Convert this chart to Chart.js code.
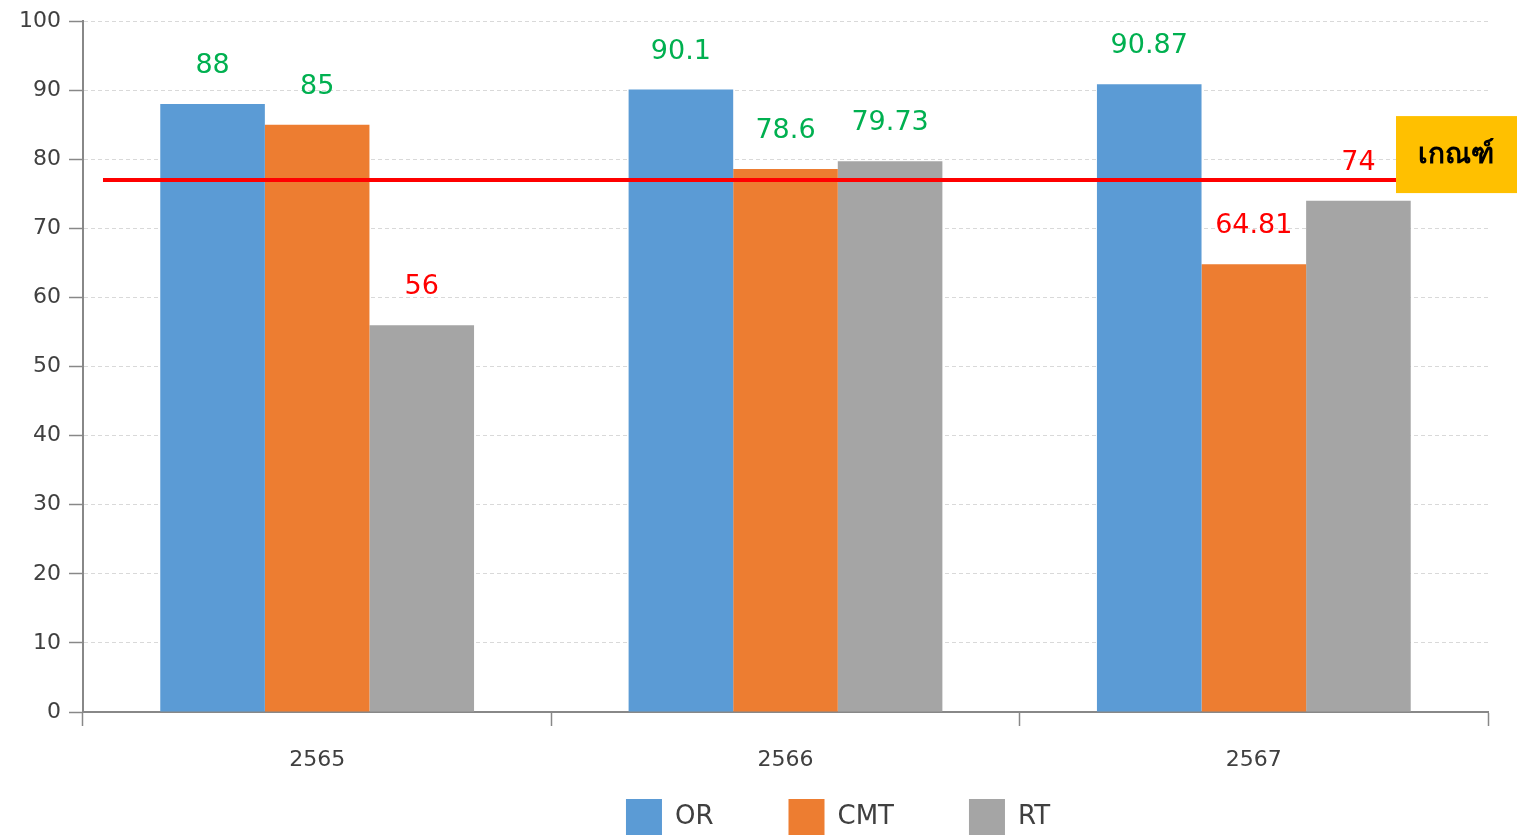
<!DOCTYPE html>
<html lang="th">
<head>
<meta charset="UTF-8">
<title>OR CMT RT</title>
<script src="https://cdn.jsdelivr.net/npm/chart.js"></script>
<style>
  html, body { margin: 0; padding: 0; background: #fff; }
  #wrap { width: 1519px; height: 835px; }
</style>
</head>
<body>
<div id="wrap"><canvas id="chart" width="1519" height="835"></canvas></div>
<script>
const years = ['2565', '2566', '2567'];
const orValues = [88, 90.1, 90.87];
const cmtValues = [85, 78.6, 64.81];
const rtValues = [56, 79.73, 74];
const criterion = 77;
const criterionLabel = 'เกณฑ์';
const yTicks = [0, 10, 20, 30, 40, 50, 60, 70, 80, 90, 100];

const FONT = "'DejaVu Sans', 'Noto Sans', sans-serif";

// value labels above the bars, green when at or over the criterion
const labelsPlugin = {
  id: 'valueLabels',
  afterDatasetsDraw(chart) {
    const ctx = chart.ctx;
    ctx.save();
    ctx.font = '27px ' + FONT;
    ctx.textAlign = 'center';
    ctx.textBaseline = 'middle';
    chart.data.datasets.forEach((ds, i) => {
      chart.getDatasetMeta(i).data.forEach((bar, j) => {
        const v = ds.data[j];
        ctx.fillStyle = v >= criterion ? '#00B050' : '#FF0000';
        ctx.fillText(String(v), bar.x, bar.y - 38);
      });
    });
    ctx.restore();
  }
};

// criterion line + yellow tag
const criterionPlugin = {
  id: 'criterion',
  afterLayout(chart) {
    // legend sits a bit right of centre in the original
    chart.legend.left += 177;
  },
  afterDatasetsDraw(chart) {
    const ctx = chart.ctx;
    const area = chart.chartArea;
    const y = chart.scales.y.getPixelForValue(criterion);
    const x0 = area.left + 20;
    const x1 = area.right - 92;
    ctx.save();
    ctx.strokeStyle = '#FF0000';
    ctx.lineWidth = 4;
    ctx.beginPath();
    ctx.moveTo(x0, y);
    ctx.lineTo(x1, y);
    ctx.stroke();
    ctx.fillStyle = '#FFC000';
    ctx.fillRect(x1, y - 64, 121, 77);
    ctx.fillStyle = '#000';
    ctx.font = 'bold 28px ' + FONT;
    ctx.textAlign = 'center';
    ctx.textBaseline = 'middle';
    ctx.fillText(criterionLabel, x1 + 60, y - 24);
    ctx.restore();
  }
};

new Chart(document.getElementById('chart'), {
  type: 'bar',
  data: {
    labels: years,
    datasets: [
      { label: 'OR', data: orValues, backgroundColor: '#5B9BD5' },
      { label: 'CMT', data: cmtValues, backgroundColor: '#ED7D31' },
      { label: 'RT', data: rtValues, backgroundColor: '#A5A5A5' }
    ]
  },
  options: {
    responsive: false,
    animation: false,
    layout: { padding: { top: 7, right: 31, left: 11, bottom: -10 } },
    datasets: {
      bar: { categoryPercentage: 0.67, barPercentage: 1.0 }
    },
    scales: {
      x: {
        grid: { offset: true, drawOnChartArea: false, tickLength: 14, tickColor: '#888', tickWidth: 1.5 },
        border: { color: '#888', width: 2 },
        ticks: { color: '#404040', font: { family: FONT, size: 22 }, padding: 21 },
        // shrink the axis box so the legend sits close, labels are not clipped
        afterFit(scale) {
          scale.height = 12;
          scale._computeLabelArea = () => null;
        }
      },
      y: {
        min: 0,
        max: 100,
        afterBuildTicks(scale) { scale.ticks = yTicks.map(v => ({ value: v })); },
        grid: { color: '#d9d9d9', tickLength: 14, tickColor: '#888', tickWidth: 1.5 },
        border: { color: '#888', width: 2, dash: [4, 3] },
        ticks: { color: '#404040', font: { family: FONT, size: 22 }, padding: 8 }
      }
    },
    plugins: {
      legend: {
        position: 'bottom',
        labels: {
          color: '#404040',
          font: { family: FONT, size: 26 },
          boxWidth: 36,
          boxHeight: 36,
          padding: 75,
          useBorderRadius: false
        }
      },
      tooltip: { enabled: false }
    }
  },
  plugins: [labelsPlugin, criterionPlugin]
});
</script>
</body>
</html>
